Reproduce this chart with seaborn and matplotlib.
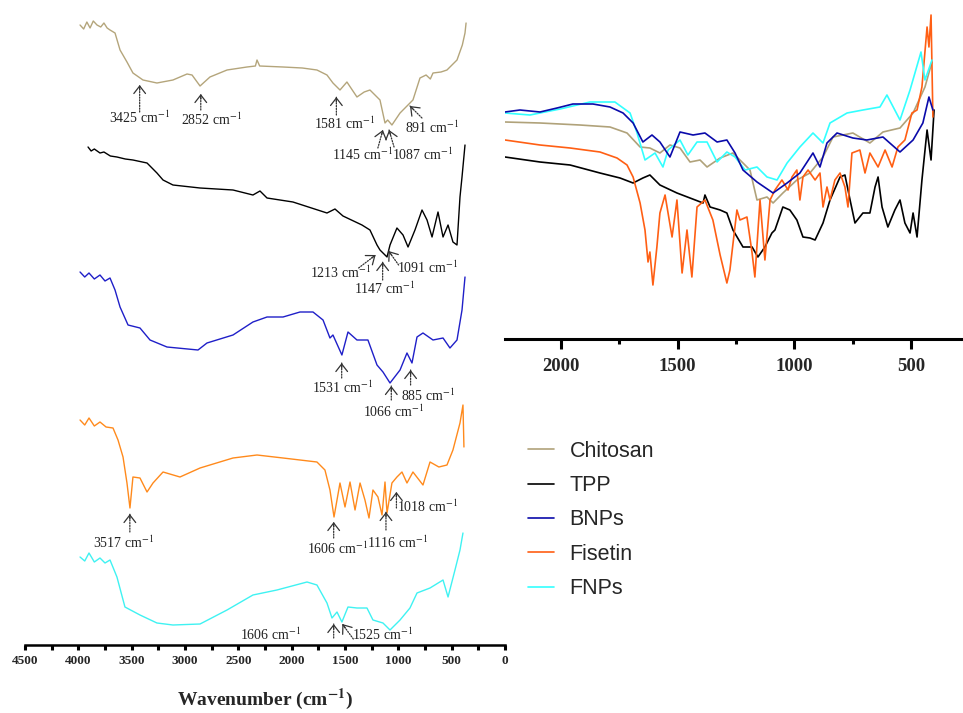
import matplotlib.pyplot as plt
import numpy as np
import pandas as pd
import seaborn as sns
from matplotlib.lines import Line2D
from matplotlib.ticker import MultipleLocator

samples = ['Chitosan', 'TPP', 'BNPs', 'Fisetin', 'FNPs']

# full range spectra (left, stacked) -> (wavenumber cm-1, transmittance a.u.)
chitosan_full = [(3984, 120), (3950, 116), (3920, 123), (3890, 117), (3860, 124), (3825, 120),
                 (3790, 118), (3760, 122), (3730, 117), (3703, 115), (3656, 112), (3609, 95),
                 (3544, 83), (3488, 72), (3394, 65), (3263, 62), (3113, 65), (2981, 71), (2934, 70),
                 (2859, 59), (2766, 68), (2606, 75), (2419, 78), (2340, 79), (2325, 85), (2300, 79),
                 (2081, 78), (1900, 77), (1763, 75), (1669, 70), (1613, 62), (1547, 55), (1482, 63),
                 (1388, 48), (1320, 53), (1266, 55), (1172, 45), (1125, 22), (1100, 25), (1060, 20),
                 (984, 32), (863, 45), (797, 67), (740, 70), (700, 66), (675, 72), (600, 73),
                 (544, 75), (450, 85), (400, 100), (375, 112), (365, 122)]
tpp_full = [(3909, 118), (3880, 114), (3850, 116), (3797, 112), (3760, 113), (3700, 109), (3638, 108),
            (3560, 106), (3488, 105), (3356, 102), (3263, 92), (3206, 85), (3113, 80), (2859, 77),
            (2550, 75), (2363, 70), (2297, 74), (2231, 67), (1988, 63), (1669, 52), (1594, 56),
            (1519, 49), (1341, 40), (1266, 35), (1200, 20), (1172, 15), (1106, 8), (1078, 20),
            (1013, 37), (956, 30), (909, 18), (844, 35), (778, 55), (731, 45), (684, 28), (628, 53),
            (581, 28), (534, 40), (488, 23), (450, 20), (422, 68), (403, 88), (375, 120)]
bnps_full = [(3984, 123), (3940, 118), (3900, 122), (3850, 116), (3797, 120), (3750, 114), (3703, 117),
             (3656, 105), (3609, 88), (3534, 70), (3422, 67), (3328, 55), (3169, 48), (2878, 45),
             (2794, 52), (2550, 60), (2363, 73), (2231, 78), (2081, 78), (1922, 83), (1800, 83),
             (1706, 75), (1641, 57), (1613, 60), (1529, 40), (1472, 63), (1388, 55), (1285, 55),
             (1200, 30), (1144, 23), (1078, 12), (984, 25), (919, 42), (872, 32), (825, 58),
             (769, 62), (675, 55), (581, 57), (516, 47), (450, 55), (403, 85), (375, 118)]
fisetin_full = [(3984, 105), (3940, 100), (3900, 107), (3850, 99), (3797, 103), (3740, 98), (3675, 97),
                (3628, 85), (3581, 68), (3544, 42), (3516, 17), (3488, 48), (3422, 47), (3356, 33),
                (3300, 42), (3206, 53), (3047, 48), (2859, 57), (2550, 67), (2325, 70), (2081, 67),
                (1763, 63), (1688, 55), (1641, 35), (1603, 8), (1547, 42), (1500, 18), (1453, 43),
                (1406, 15), (1359, 42), (1313, 25), (1275, 7), (1238, 35), (1191, 28), (1153, 10),
                (1125, 43), (1106, 12), (1060, 42), (1013, 48), (966, 53), (919, 42), (863, 53),
                (769, 40), (703, 63), (620, 58), (544, 60), (488, 75), (422, 102), (394, 120), (385, 78)]
fnps_full = [(3984, 88), (3940, 84), (3900, 92), (3850, 83), (3797, 87), (3750, 82), (3703, 85),
             (3638, 68), (3563, 38), (3422, 30), (3263, 22), (3113, 20), (2859, 21), (2606, 35),
             (2363, 50), (2138, 55), (1856, 63), (1763, 60), (1669, 42), (1622, 27), (1575, 33),
             (1529, 23), (1472, 38), (1388, 37), (1294, 37), (1238, 25), (1144, 22), (1078, 15),
             (984, 25), (891, 37), (825, 52), (703, 57), (581, 65), (534, 48), (469, 75),
             (422, 95), (394, 112)]
stack_offset = [500, 380, 250, 120, 0]

# expanded 2240-400 cm-1 overlay (right panel)
chitosan_zoom = [(2240, 217), (2090, 216), (1919, 214), (1790, 212), (1717, 206), (1661, 192),
                 (1619, 191), (1576, 186), (1533, 194), (1490, 191), (1447, 177), (1404, 179),
                 (1374, 172), (1318, 181), (1263, 186), (1220, 176), (1190, 169), (1160, 139),
                 (1117, 142), (1091, 136), (1049, 146), (989, 159), (933, 166), (877, 182),
                 (834, 202), (749, 206), (676, 196), (620, 207), (547, 211), (491, 226),
                 (440, 252), (410, 277)]
tpp_zoom = [(2240, 182), (2090, 177), (1961, 174), (1833, 166), (1747, 161), (1691, 156), (1649, 161),
            (1619, 164), (1576, 154), (1503, 146), (1447, 141), (1391, 136), (1383, 144), (1361, 132),
            (1318, 129), (1289, 126), (1263, 109), (1220, 92), (1181, 92), (1156, 82), (1126, 92),
            (1096, 106), (1083, 109), (1049, 132), (1019, 129), (989, 119), (963, 102), (933, 101),
            (911, 99), (877, 116), (847, 139), (804, 162), (783, 164), (761, 139), (740, 116),
            (706, 126), (676, 126), (654, 152), (641, 162), (624, 132), (599, 112), (569, 129),
            (547, 139), (526, 116), (504, 106), (491, 126), (474, 102), (453, 159), (431, 209),
            (414, 179), (401, 229)]
bnps_zoom = [(2240, 227), (2176, 229), (2090, 227), (2017, 231), (1949, 235), (1863, 235), (1790, 232),
             (1734, 226), (1691, 216), (1649, 197), (1610, 204), (1576, 197), (1533, 182), (1490, 207),
             (1434, 204), (1383, 206), (1331, 197), (1289, 199), (1254, 186), (1220, 169), (1160, 157),
             (1091, 146), (1031, 156), (976, 166), (920, 186), (890, 172), (860, 196), (817, 206),
             (749, 201), (689, 199), (620, 202), (547, 187), (491, 199), (449, 216), (423, 242),
             (406, 229)]
fisetin_zoom = [(2240, 199), (2090, 194), (1961, 191), (1833, 187), (1760, 181), (1717, 174), (1691, 162),
                (1661, 136), (1640, 109), (1627, 77), (1619, 87), (1606, 54), (1589, 92), (1576, 126),
                (1554, 144), (1524, 102), (1503, 139), (1481, 66), (1460, 109), (1439, 62), (1417, 132),
                (1383, 139), (1349, 119), (1318, 84), (1289, 56), (1276, 69), (1246, 129), (1233, 119),
                (1203, 122), (1181, 86), (1169, 62), (1147, 139), (1126, 79), (1104, 139), (1083, 149),
                (1053, 159), (1027, 149), (1010, 162), (989, 169), (976, 139), (963, 162), (941, 169),
                (911, 159), (890, 166), (877, 132), (860, 152), (847, 139), (826, 159), (804, 166),
                (783, 152), (770, 132), (753, 186), (719, 189), (697, 166), (676, 186), (641, 172),
                (611, 189), (581, 172), (556, 192), (526, 199), (496, 226), (474, 229), (453, 252),
                (431, 312), (423, 292), (414, 324), (406, 222)]
fnps_zoom = [(2240, 226), (2133, 224), (2004, 230), (1876, 237), (1769, 237), (1704, 226), (1674, 206),
             (1640, 179), (1597, 186), (1563, 172), (1541, 189), (1490, 199), (1456, 184), (1417, 197),
             (1374, 197), (1331, 177), (1289, 187), (1254, 182), (1211, 169), (1160, 172), (1117, 162),
             (1074, 159), (1031, 176), (976, 192), (920, 206), (877, 196), (847, 216), (774, 226),
             (706, 229), (633, 232), (603, 244), (547, 219), (504, 249), (457, 287), (440, 259),
             (410, 279)]

full_data = [chitosan_full, tpp_full, bnps_full, fisetin_full, fnps_full]
zoom_data = [chitosan_zoom, tpp_zoom, bnps_zoom, fisetin_zoom, fnps_zoom]

# labelled bands on the stacked spectra
peak_sample = ['Chitosan'] * 6 + ['TPP'] * 3 + ['BNPs'] * 3 + ['Fisetin'] * 4 + ['FNPs'] * 2
peak_wn = [3425, 2852, 1581, 1145, 1087, 891, 1213, 1147, 1091, 1531, 1066, 885,
           3517, 1606, 1116, 1018, 1606, 1525]

# arrow tip height, arrow tail offset (px), label offset (px)
peak_layout = [(560, (0, -27), (0, -33)), (551, (0, -16), (11, -26)), (548, (0, -18), (8, -27)),
               (515, (-5, -18), (-20, -25)), (515, (5, -17), (33, -25)), (539, (12, -12), (22, -22)),
               (390, (-17, -13), (-35, -18)), (383, (0, -18), (2, -27)), (394, (10, -14), (39, -17)),
               (282, (0, -15), (1, -25)), (259, (0, -14), (2, -26)), (275, (0, -15), (17, -26)),
               (131, (0, -18), (-6, -29)), (123, (0, -16), (4, -27)), (133, (0, -18), (12, -31)),
               (153, (0, -16), (31, -15)), (21, (0, -14), (-63, -11)), (21, (11, -15), (40, -11))]

left_colors = ['#B4A57B', '#000000', '#1F1FC8', '#FF8A1C', '#3FF2F2']
right_colors = ['#B0A27A', '#000000', '#0A0AAA', '#FF5F14', '#33FFFF']

sns.set_theme(style='white')
plt.rcParams['font.family'] = ['Liberation Serif', 'DejaVu Serif']
plt.rcParams['mathtext.fontset'] = 'stix'

fig = plt.figure(figsize=(9.63, 7.13), dpi=100)
W, H = 963, 713
ax = fig.add_axes([25 / W, (H - 645) / H, 480 / W, 645 / H])
ax2 = fig.add_axes([505 / W, (H - 339) / H, 458 / W, 339 / H])

rows = []
for name, data, off in zip(samples, full_data, stack_offset):
    for wn, t in data:
        rows.append({'sample': name, 'wn': wn, 'T': t + off})
full_df = pd.DataFrame(rows)

rows = []
for name, data in zip(samples, zoom_data):
    for wn, t in data:
        rows.append({'sample': name, 'wn': wn, 'T': t})
zoom_df = pd.DataFrame(rows)

sns.lineplot(data=full_df, x='wn', y='T', hue='sample', hue_order=samples,
             palette=left_colors, estimator=None, lw=1.0, legend=False, ax=ax)
order = ['Chitosan', 'TPP', 'Fisetin', 'FNPs', 'BNPs']
sns.lineplot(data=zoom_df, x='wn', y='T', hue='sample', hue_order=order,
             palette=[right_colors[samples.index(s)] for s in order],
             estimator=None, lw=1.2, legend=False, ax=ax2)


def mark_peak(a, wn, tip, tail, txt, label):
    arrow_col = '#333333'
    a.annotate('', xy=(wn, tip), xytext=tail, textcoords='offset pixels',
               arrowprops=dict(arrowstyle='-', linestyle=(0, (1, 1.2)), lw=0.9,
                               color=arrow_col, shrinkA=0, shrinkB=0))
    L = np.hypot(*tail)
    a.annotate('', xy=(wn, tip), xytext=(tail[0] * 5 / L, tail[1] * 5 / L), textcoords='offset pixels',
               arrowprops=dict(arrowstyle='->,head_width=0.35,head_length=0.45', lw=0.9,
                               color=arrow_col, shrinkA=0, shrinkB=0))
    a.annotate(label, xy=(wn, tip), xytext=txt, textcoords='offset pixels',
               ha='center', va='center', fontsize=10, color='#222222')


for s, wn, (tip, tail, txt) in zip(peak_sample, peak_wn, peak_layout):
    mark_peak(ax, wn, tip, tail, txt, f'{wn} cm$^{{-1}}$')

# left axis
ax.set_xlim(4500, 0)
ax.set_ylim(0, 645)
ax.xaxis.set_major_locator(MultipleLocator(500))
ax.xaxis.set_minor_locator(MultipleLocator(250))
ax.set_yticks([])
for sp in ['left', 'right', 'top']:
    ax.spines[sp].set_visible(False)
ax.spines['bottom'].set_linewidth(1.8)
ax.spines['bottom'].set_color('black')
ax.tick_params(axis='x', which='both', bottom=True, direction='out', length=3.5, width=2.2,
               color='black', labelsize=9.5, pad=4)
plt.setp(ax.get_xticklabels(), fontweight='bold')
ax.set_ylabel('')
ax.set_xlabel(r'Wavenumber (cm$^{\mathbf{-1}}$)', fontsize=14, fontweight='bold', labelpad=14)

# right axis
ax2.set_xlim(2240, 277)
ax2.set_ylim(0, 339)
ax2.xaxis.set_major_locator(MultipleLocator(500))
ax2.xaxis.set_minor_locator(MultipleLocator(250))
ax2.set_yticks([])
for sp in ['left', 'right', 'top']:
    ax2.spines[sp].set_visible(False)
ax2.spines['bottom'].set_linewidth(2.2)
ax2.spines['bottom'].set_color('black')
ax2.tick_params(axis='x', which='major', bottom=True, direction='out', length=7, width=2.2,
                color='black', labelsize=13.5, pad=7)
ax2.tick_params(axis='x', which='minor', bottom=True, direction='out', length=3.5, width=2.2,
                color='black')
plt.setp(ax2.get_xticklabels(), fontweight='bold')
ax2.set_xlabel('')
ax2.set_ylabel('')
ax2.patch.set_alpha(0)

handles = [Line2D([], [], color=c, lw=1.2) for c in right_colors]
fig.legend(handles, samples, loc='upper left', bbox_to_anchor=(517 / W, 1 - 430 / H),
           frameon=False, borderpad=0, handlelength=1.2, handletextpad=0.75,
           labelspacing=0.62, prop={'family': 'Liberation Sans', 'size': 15.5})

fig.savefig('out.png', dpi=100)
